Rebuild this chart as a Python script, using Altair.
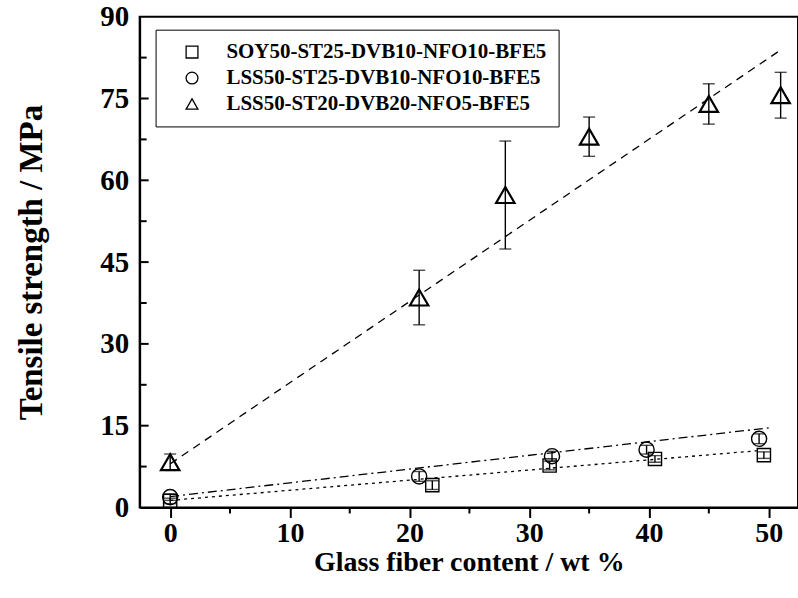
import altair as alt
import pandas as pd

S1 = "SOY50-ST25-DVB10-NFO10-BFE5"
S2 = "LSS50-ST25-DVB10-NFO10-BFE5"
S3 = "LSS50-ST20-DVB20-NFO5-BFE5"
series_order = [S1, S2, S3]
shapes = ["square", "circle", "triangle-up"]

# data
x_soy = [0, 21.9, 31.7, 40.5, 49.6]
y_soy = [1.2, 4.1, 7.7, 8.9, 9.6]
e_soy = [0.5, 0.8, 0.8, 0.6, 0.6]

x_lss1 = [0, 20.8, 31.9, 39.8, 49.2]
y_lss1 = [1.9, 5.7, 9.4, 10.6, 12.6]
e_lss1 = [0.6, 0.9, 0.9, 0.8, 0.9]

x_lss2 = [0, 20.8, 28.0, 35.0, 45.0, 51.0]
y_lss2 = [8.3, 38.5, 57.3, 68.0, 74.0, 75.6]
e_lss2 = [1.5, 5.0, 9.9, 3.6, 3.7, 4.2]

# fitted lines (end points)
fit_soy_x = [0, 49.0]
fit_soy_y = [1.3, 10.4]
fit_lss1_x = [0, 50.0]
fit_lss1_y = [2.0, 14.6]
fit_lss2_x = [0, 50.8]
fit_lss2_y = [8.0, 83.6]

x_ticks = [0, 10, 20, 30, 40, 50]
x_minor = [5, 15, 25, 35, 45]
y_ticks = [0, 15, 30, 45, 60, 75, 90]
y_minor = [7.5, 22.5, 37.5, 52.5, 67.5, 82.5]

FONT = "Liberation Serif"

def frame(name, xs, ys, es):
    return pd.DataFrame({"x": xs, "y": ys,
                         "lo": [a - b for a, b in zip(ys, es)],
                         "hi": [a + b for a, b in zip(ys, es)],
                         "series": [name] * len(xs)})

df1 = frame(S1, x_soy, y_soy, e_soy)
df2 = frame(S2, x_lss1, y_lss1, e_lss1)
df3 = frame(S3, x_lss2, y_lss2, e_lss2)
pts = pd.concat([df1, df2, df3], ignore_index=True)

xscale = alt.Scale(domain=[-2.55, 52.45], nice=False, zero=False)
yscale = alt.Scale(domain=[0, 90], nice=False)

X = alt.X("x:Q", scale=xscale, axis=alt.Axis(
    values=x_ticks, tickSize=10, tickWidth=2, tickColor="black", domainWidth=2, domainColor="black",
    labelFont=FONT, labelFontSize=28, labelFontWeight="bold", labelColor="black", labelPadding=2,
    grid=False, title="Glass fiber content / wt %", titleFont=FONT, titleFontSize=28,
    titleFontWeight="bold", titleColor="black", titlePadding=1))
Y = alt.Y("y:Q", scale=yscale, axis=alt.Axis(
    values=y_ticks, ticks=False, tickSize=0, domainWidth=2, domainColor="black",
    labelFont=FONT, labelFontSize=29, labelFontWeight="bold", labelColor="black", labelPadding=11,
    grid=False, title="Tensile strength / MPa", titleFont=FONT, titleFontSize=33,
    titleFontWeight="bold", titleColor="black", titlePadding=51))

def fit_layer(xs, ys, dash):
    df = pd.DataFrame({"x": xs, "y": ys})
    return alt.Chart(df).mark_line(color="black", strokeWidth=1.3, strokeDash=dash).encode(
        x=alt.X("x:Q", scale=xscale), y=alt.Y("y:Q", scale=yscale))

fits = [
    fit_layer(fit_soy_x, fit_soy_y, [3, 4]),
    fit_layer(fit_lss1_x, fit_lss1_y, [9, 4, 2, 4]),
    fit_layer(fit_lss2_x, fit_lss2_y, [8, 6]),
]

base = alt.Chart(pts)
err = base.mark_rule(color="black", strokeWidth=1.4).encode(
    x=alt.X("x:Q", scale=xscale), y=alt.Y("lo:Q", scale=yscale), y2="hi:Q")
cap_lo = base.mark_tick(color="black", thickness=1.4, size=12, orient="horizontal").encode(
    x=alt.X("x:Q", scale=xscale), y=alt.Y("lo:Q", scale=yscale))
cap_hi = base.mark_tick(color="black", thickness=1.4, size=12, orient="horizontal").encode(
    x=alt.X("x:Q", scale=xscale), y=alt.Y("hi:Q", scale=yscale))

legend = alt.Legend(title=None, orient="none", legendX=16, legendY=13,
                    strokeColor="black", fillColor="white", padding=12,
                    labelFont=FONT, labelFontSize=21, labelFontWeight="bold",
                    labelColor="black", labelLimit=0, symbolSize=140,
                    symbolStrokeWidth=1.3, symbolStrokeColor="black",
                    symbolFillColor="transparent", symbolOffset=14,
                    labelOffset=24, rowPadding=4)
shape_scale = alt.Scale(domain=series_order, range=shapes)

def point_layer(df, size, sw):
    return alt.Chart(df).mark_point(filled=False, color="black", opacity=1, size=size, strokeWidth=sw).encode(
        x=X, y=Y,
        shape=alt.Shape("series:N", scale=shape_scale, legend=legend))

p1 = point_layer(df1, 175, 1.4)
p2 = point_layer(df2, 230, 1.4)
p3 = point_layer(df3, 340, 2.2)

ytick_major = alt.Chart(pd.DataFrame({"v": y_ticks[1:-1]})).mark_rule(color="black", strokeWidth=2).encode(
    y=alt.Y("v:Q", scale=yscale), x=alt.value(0), x2=alt.value(9))
ytick_minor = alt.Chart(pd.DataFrame({"v": y_minor})).mark_rule(color="black", strokeWidth=2).encode(
    y=alt.Y("v:Q", scale=yscale), x=alt.value(0), x2=alt.value(7))
xtick_minor = alt.Chart(pd.DataFrame({"v": x_minor})).mark_rule(color="black", strokeWidth=2).encode(
    x=alt.X("v:Q", scale=xscale), y=alt.value(492), y2=alt.value(498))

chart = alt.layer(*fits, err, cap_lo, cap_hi, p1, p2, p3, ytick_major, ytick_minor, xtick_minor).properties(
    width=660, height=492,
    autosize=alt.AutoSizeParams(type="none"),
    padding={"left": 140, "top": 16, "right": 0, "bottom": 90},
    background="white",
).configure_view(stroke="black", strokeWidth=2)

chart.save("out.html", embed_options={"renderer": "svg", "actions": False})
